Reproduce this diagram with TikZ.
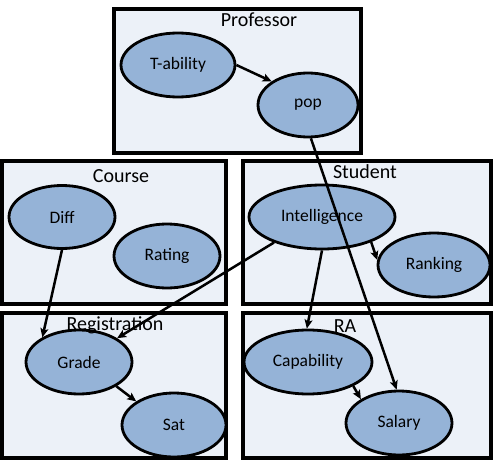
\documentclass[tikz,border=0pt]{standalone}
\usepackage{fontspec}
\setmainfont{Carlito}
\usetikzlibrary{shapes.geometric,arrows.meta}
\definecolor{boxfill}{RGB}{236,241,248}
\definecolor{ellfill}{RGB}{149,179,215}
\tikzset{
  plate/.style={draw=black, line width=3.2pt, fill=boxfill},
  platetitle/.style={anchor=base, inner sep=0pt, font=\fontsize{20}{20}\selectfont},
  var/.style={ellipse, draw=black, line width=2.8pt, fill=ellfill, inner sep=0pt, font=\fontsize{17.5}{18}\selectfont},
  dep/.style={line width=2.5pt, -{Stealth[length=9pt,width=8pt,inset=2pt]}}
}
\begin{document}
\begin{tikzpicture}[x=1pt,y=-1pt]
\useasboundingbox (0,0) rectangle (493,460);
% plates
\draw[plate] (114,9) rectangle (361,153);
\draw[plate] (2,161) rectangle (226,304);
\draw[plate] (243,161) rectangle (491,304);
\draw[plate] (2,313) rectangle (226,458);
\draw[plate] (243,313) rectangle (491,458);
% titles
\node[platetitle] (tprof) at (259,27) {Professor};
\node[platetitle] (tcourse) at (121,182) {Course};
\node[platetitle] (tstudent) at (365,178) {Student};
% variables
\node[var, minimum width=114pt, minimum height=64pt] (tab) at (178,65) {T-ability};
\node[var, minimum width=100pt, minimum height=64pt] (pop) at (308,105) {pop};
\node[var, minimum width=106pt, minimum height=63pt] (diff) at (62,217) {Diff};
\node[var, minimum width=106pt, minimum height=64pt] (rating) at (167,256) {Rating};
\node[var, minimum width=146pt, minimum height=64pt] (intel) at (322,217) {Intelligence};
\node[var, minimum width=112pt, minimum height=64pt] (rank) at (434,265) {Ranking};
\node[var, minimum width=106pt, minimum height=64pt] (grade) at (79,362) {Grade};
\node[var, minimum width=104pt, minimum height=64pt] (sat) at (174,425) {Sat};
\node[var, minimum width=128pt, minimum height=64pt] (cap) at (308,362) {Capability};
\node[var, minimum width=106pt, minimum height=64pt] (salary) at (399,423) {Salary};
% titles drawn over ellipses
\node[platetitle] (treg) at (115,330) {Registration};
\node[platetitle] (tra) at (345,332) {RA};
% dependencies
\draw[dep] (tab.east) -- (pop.147);
\draw[dep] (diff.south) -- (grade.146);
\draw[dep] (intel.208) -- (grade.32);
\draw[dep] (intel.south) -- (cap.92);
\draw[dep] (intel.333) -- (rank.175);
\draw[dep] (grade.327) -- (sat.148);
\draw[dep] (cap.332) -- (salary.148);
\draw[dep] (pop.275) -- (salary.94);
\end{tikzpicture}
\end{document}
